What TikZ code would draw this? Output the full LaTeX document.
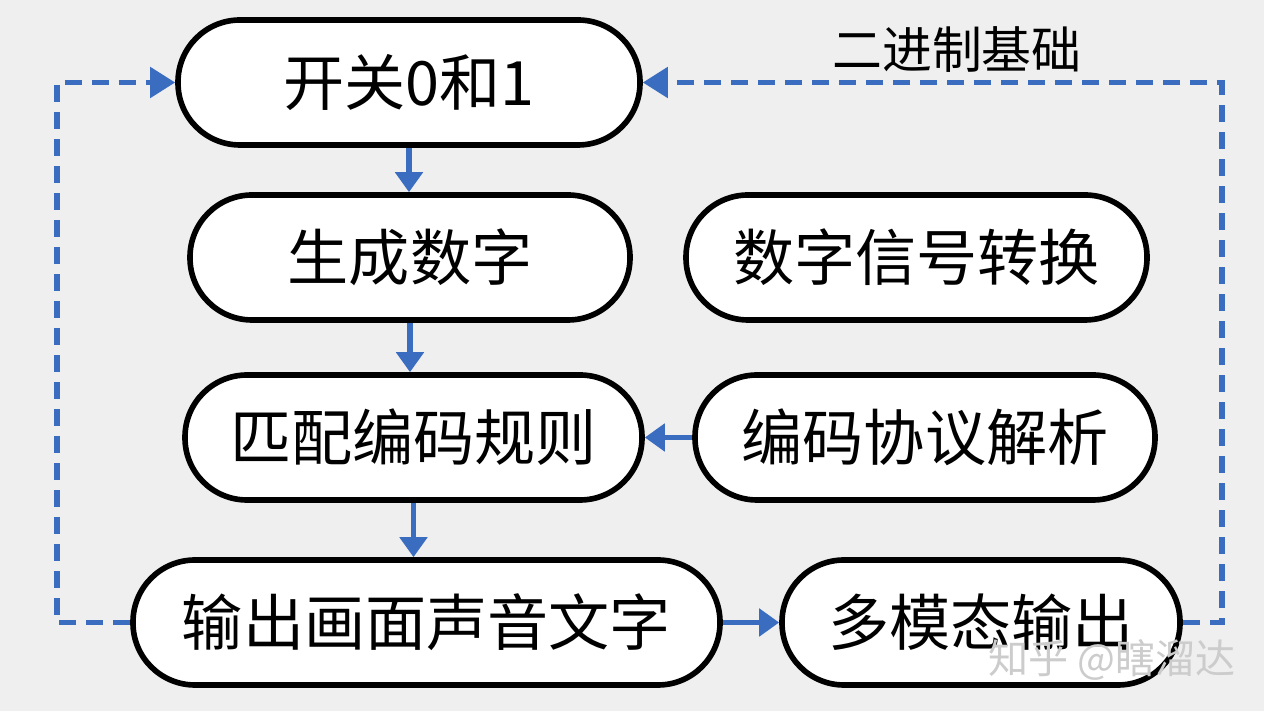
\documentclass[tikz,border=0pt]{standalone}
\usepackage{fontspec}
\setmainfont{Noto Sans CJK SC}
\usetikzlibrary{positioning,arrows.meta}
\definecolor{bgcol}{HTML}{EFEFEF}
\definecolor{flowblue}{HTML}{3A6DBF}

\begin{document}
\begin{tikzpicture}[
  box/.style={draw, line width=1.6pt, rounded corners=0.62cm, minimum height=1.25cm, fill=white, inner sep=0pt, font=\fontsize{17.4}{20}\selectfont},
  arr/.style={flowblue, line width=1.7pt, -{Triangle[length=0.2cm,width=0.27cm]}},
  backloop/.style={flowblue, line width=1.45pt, dash pattern=on 0.17cm off 0.1cm, -{Triangle[length=0.25cm,width=0.3cm]}}]
  \fill[bgcol] (0,0) rectangle (12.64,-7.11);
  \useasboundingbox (0,0) rectangle (12.64,-7.11);
  % main column
  \node[box, minimum width=4.62cm] (switch) at (4.09,-0.825) {开关0和1};
  \node[box, minimum width=4.40cm] (gen) at (4.10,-2.575) {生成数字};
  \node[box, minimum width=4.57cm] (match) at (4.135,-4.375) {匹配编码规则};
  \node[box, minimum width=5.87cm] (outputs) at (4.265,-6.225) {输出画面声音文字};
  % right column
  \node[box, minimum width=4.61cm] (conv) at (9.165,-2.575) {数字信号转换};
  \node[box, minimum width=4.60cm] (parse) at (9.25,-4.375) {编码协议解析};
  \node[box, minimum width=3.98cm] (multi) at (9.81,-6.225) {多模态输出};
  \node[font=\fontsize{14.2}{16}\selectfont] (binlabel) at (9.57,-0.50) {二进制基础};
  \coordinate (leftrail) at (0.57,0);
  \coordinate (rightrail) at (12.22,0);
  \draw[arr] (switch.south) -- (switch.south |- gen.north);
  \draw[arr] (gen.south) -- (gen.south |- match.north);
  \draw[arr] (match.south) -- (match.south |- outputs.north);
  \draw[arr] (parse.west) -- (match.east);
  \draw[arr] (outputs.east) -- (multi.west);
  \draw[backloop] (outputs.west) -- (outputs.west -| leftrail) |- (switch.west);
  \draw[backloop] (multi.east) -- (multi.east -| rightrail) |- (switch.east);
  % watermark
  \node[text=gray!40, font=\fontsize{11.4}{13}\selectfont] (mark) at (11.12,-6.60) {知乎 @瞎溜达};
\end{tikzpicture}
\end{document}
